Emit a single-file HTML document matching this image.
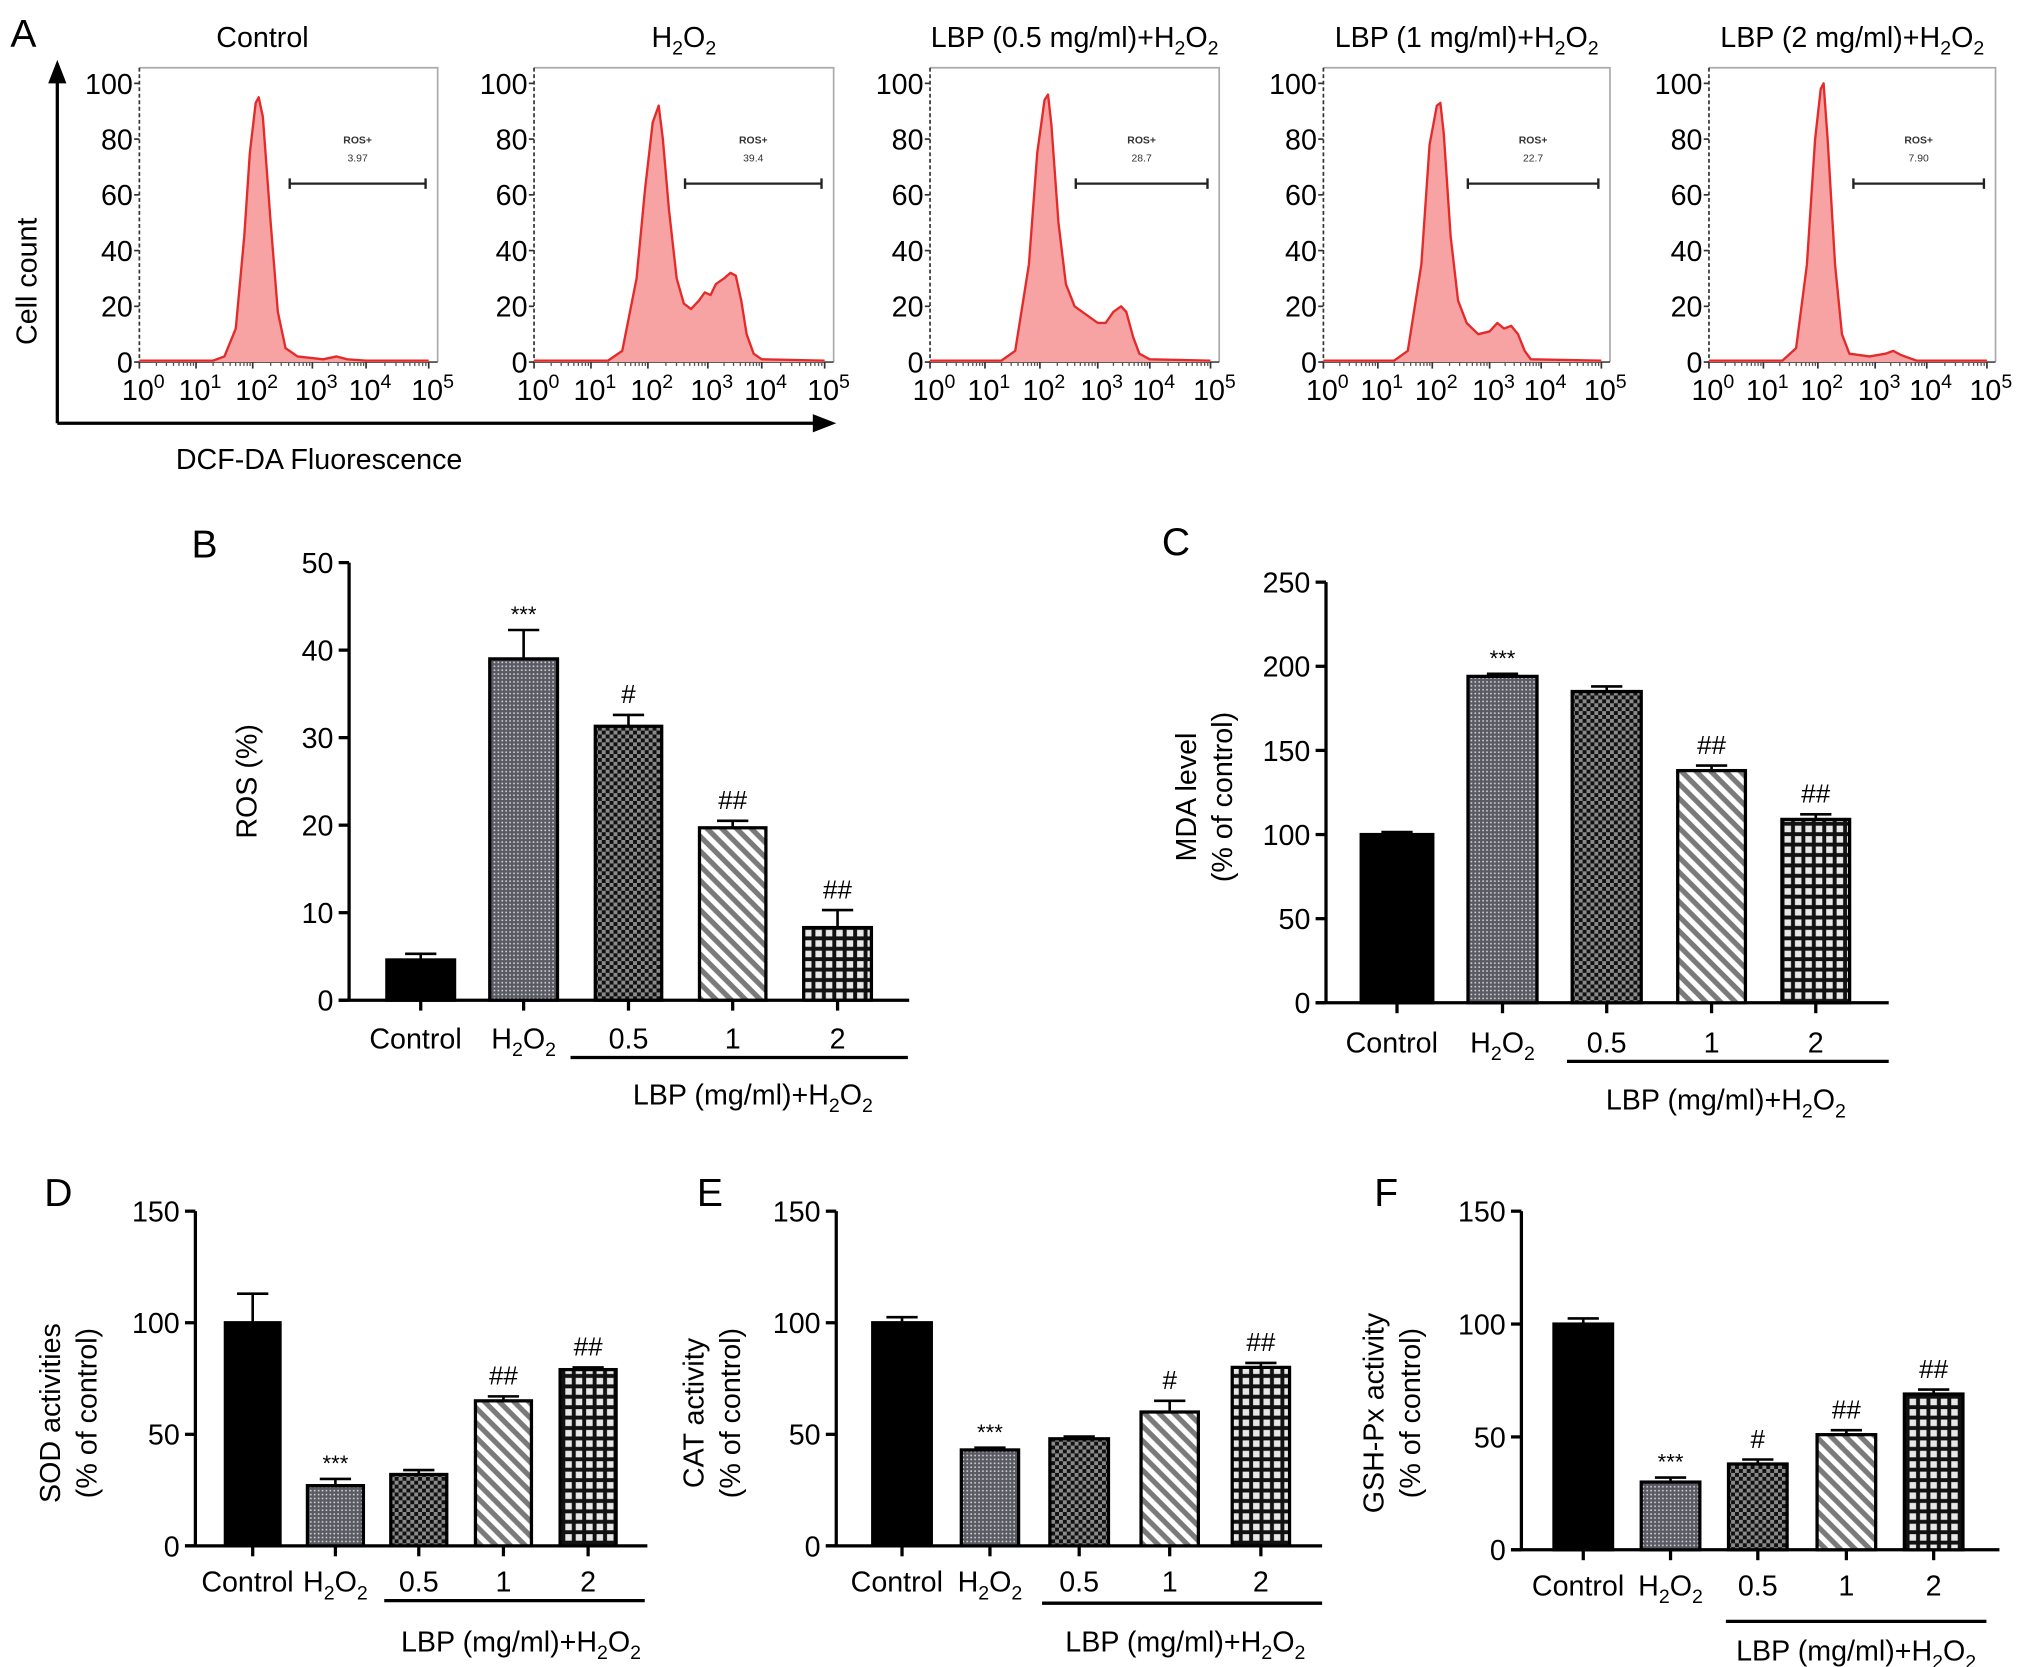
<!DOCTYPE html>
<html><head><meta charset="utf-8"><style>
html,body{margin:0;padding:0;background:#fff}
svg{display:block;font-family:"Liberation Sans",Arial,sans-serif}
</style></head><body>
<svg id="fig" width="2032" height="1667" viewBox="0 0 1560 1280" preserveAspectRatio="none" xmlns="http://www.w3.org/2000/svg">
<defs>
<pattern id="pH" width="3" height="3" patternUnits="userSpaceOnUse"><rect width="3" height="3" fill="#5a5a62"/><rect x="1" y="1" width="1.2" height="1.2" fill="#d8d8e0"/></pattern>
<pattern id="pC" width="6" height="6" patternUnits="userSpaceOnUse"><rect width="6" height="6" fill="#111"/><rect width="3" height="3" fill="#8a8a8a"/><rect x="3" y="3" width="3" height="3" fill="#8a8a8a"/></pattern>
<pattern id="pS" width="8" height="8" patternUnits="userSpaceOnUse" patternTransform="rotate(45)"><rect width="8" height="8" fill="#fff"/><rect width="8" height="4" fill="#7a7a7a"/></pattern>
<pattern id="pG" width="8" height="8" patternUnits="userSpaceOnUse"><rect width="8" height="8" fill="#111"/><rect x="2" y="2" width="5" height="5" fill="#e8e8e8"/></pattern>
</defs>
<g id="root"></g>
</svg>
<script>
// ---------- Panel A data (flow histograms: [log10 decade, % count]) ----------
const flowTitles = ['Control','H<tspan dy="6" font-size="15">2</tspan><tspan dy="-6">O</tspan><tspan dy="6" font-size="15">2</tspan>',
 'LBP (0.5 mg/ml)+H<tspan dy="6" font-size="15">2</tspan><tspan dy="-6">O</tspan><tspan dy="6" font-size="15">2</tspan>',
 'LBP (1 mg/ml)+H<tspan dy="6" font-size="15">2</tspan><tspan dy="-6">O</tspan><tspan dy="6" font-size="15">2</tspan>',
 'LBP (2 mg/ml)+H<tspan dy="6" font-size="15">2</tspan><tspan dy="-6">O</tspan><tspan dy="6" font-size="15">2</tspan>'];
const flowGateValues = ['3.97','39.4','28.7','22.7','7.90'];
const histControl = [[0,0.5],[1.3,0.5],[1.5,2],[1.7,12],[1.85,45],[1.95,75],[2.05,93],[2.1,95],[2.17,88],[2.3,50],[2.42,18],[2.55,5],[2.75,2],[3.2,1],[3.45,2],[3.65,1],[4,0.5],[5,0.5]];
const histH2O2 = [[0,0.5],[1.3,0.5],[1.55,4],[1.8,30],[1.95,62],[2.08,86],[2.18,92],[2.25,80],[2.35,55],[2.48,30],[2.6,21],[2.72,19],[2.85,22],[2.95,25],[3.05,24],[3.15,28],[3.3,30],[3.42,32],[3.52,31],[3.62,22],[3.72,10],[3.85,3],[4.0,1],[5,0.5]];
const hist05 = [[0,0.5],[1.3,0.5],[1.55,4],[1.8,35],[1.95,75],[2.08,94],[2.14,96],[2.2,85],[2.32,50],[2.45,28],[2.6,20],[2.8,17],[3.0,14],[3.15,14],[3.3,18],[3.45,20],[3.55,18],[3.68,9],[3.8,3],[4.0,1],[5,0.5]];
const hist1 = [[0,0.5],[1.3,0.5],[1.55,4],[1.8,35],[1.95,78],[2.08,92],[2.14,93],[2.2,82],[2.32,45],[2.45,22],[2.6,14],[2.8,10],[3.0,11],[3.15,14],[3.28,12],[3.42,13],[3.55,10],[3.68,4],[3.8,1],[5,0.5]];
const hist2 = [[0,0.5],[1.35,0.5],[1.6,5],[1.8,35],[1.95,80],[2.05,98],[2.1,100],[2.17,80],[2.3,35],[2.42,10],[2.55,3],[2.9,2],[3.2,3],[3.35,4],[3.5,2.5],[3.8,0.5],[5,0.5]];
const flowSeries = [histControl, histH2O2, hist05, hist1, hist2];
const flowYTicks = [0,20,40,60,80,100];
const flowXTicks = [0,1,2,3,4,5];

// ---------- Bar chart data ----------
const barCats = ['Control','H2O2','0.5','1','2'];
const rosVals = [4.6, 39.0, 31.3, 19.7, 8.3];
const rosErr  = [5.3, 42.3, 32.6, 20.5, 10.3];
const rosSig  = ['', '***', '#', '##', '##'];
const rosTicks = [0,10,20,30,40,50];
const mdaVals = [100, 194, 185, 138, 109];
const mdaErr  = [101.5, 195.5, 188, 141, 112];
const mdaSig  = ['', '***', '', '##', '##'];
const mdaTicks = [0,50,100,150,200,250];
const sodVals = [100, 27, 32, 65, 79];
const sodErr  = [113, 30, 34, 67, 80];
const sodSig  = ['', '***', '', '##', '##'];
const catVals = [100, 43, 48, 60, 80];
const catErr  = [102.5, 44, 49, 65, 82];
const catSig  = ['', '***', '', '#', '##'];
const gshVals = [100, 30, 38, 51, 69];
const gshErr  = [102.5, 32, 40, 53, 71];
const gshSig  = ['', '***', '#', '##', '##'];
const enzTicks = [0,50,100,150];

const NS='http://www.w3.org/2000/svg';
const root=document.getElementById('root');
function mk(tag,attrs,parent){const e=document.createElementNS(NS,tag);for(const k in attrs)e.setAttribute(k,attrs[k]);(parent||root).appendChild(e);return e;}
const H2='H<tspan dy="6" font-size="15">2</tspan><tspan dy="-6">O</tspan><tspan dy="6" font-size="15">2</tspan>';

// ---------- Panel A ----------
const boxL=[107,410,714,1016,1312], boxR=[336,640,936,1236,1532];
const fracs=[0,0.19,0.38,0.58,0.76,0.97];
const fTop=52, fY0=278, fY100=64;
function fx(i,d){const w=boxR[i]-boxL[i];const k=Math.max(0,Math.min(4,Math.floor(d)));const t=d-k;return boxL[i]+w*(fracs[k]+(fracs[k+1]-fracs[k])*t);}
function fy(v){return fY0-(fY0-fY100)*v/100;}
let t=mk('text',{x:8,y:36,'font-size':30});t.textContent='A';


for(let i=0;i<5;i++){
  const g=mk('g',{});
  
  
  const tt=mk('text',{x:(boxL[i]+boxR[i])/2+(i==0?-20:0),y:36,'font-size':22,'text-anchor':'middle'},g);tt.innerHTML=flowTitles[i];
  
  
  mk('polyline',{points:`${boxL[i]},${fTop} ${boxR[i]},${fTop} ${boxR[i]},${fY0}`,fill:'none',stroke:'#aaa','stroke-width':1.3},g);
  mk('line',{x1:boxL[i],y1:fTop,x2:boxL[i],y2:fY0,stroke:'#333','stroke-width':1.3,'stroke-dasharray':'3,2'},g);
  mk('line',{x1:boxL[i],y1:fY0,x2:boxR[i],y2:fY0,stroke:'#444','stroke-width':1.3},g);
  flowYTicks.forEach(v=>{mk('line',{x1:boxL[i]-4,y1:fy(v),x2:boxL[i],y2:fy(v),stroke:'#333','stroke-width':1.3},g);
    const l=mk('text',{x:boxL[i]-5,y:fy(v)+8,'font-size':22,'text-anchor':'end'},g);l.textContent=v;
    
    });
  flowXTicks.forEach(d=>{const x=fx(i,d);mk('line',{x1:x,y1:fY0,x2:x,y2:fY0+5,stroke:'#333','stroke-width':1.3},g);
    if(d<5)for(let m=2;m<10;m++){const xm=fx(i,d+Math.log10(m));mk('line',{x1:xm,y1:fY0,x2:xm,y2:fY0+3,stroke:'#555','stroke-width':1},g);}
    const l=mk('text',{x:x+3,y:fY0+29,'font-size':22,'text-anchor':'middle'},g);l.innerHTML='10<tspan dy="-9" font-size="15">'+d+'</tspan>';
    
    });
  const pts=flowSeries[i].map(p=>fx(i,p[0]).toFixed(1)+','+fy(p[1]).toFixed(1));
  const area=mk('polygon',{points:`${fx(i,0)},${fY0} `+pts.join(' ')+` ${fx(i,5)},${fY0}`,fill:'#f7a3a3',stroke:'none'},g);
  
  
  const ln=mk('polyline',{points:pts.join(' '),fill:'none',stroke:'#e52a2a','stroke-width':1.8,'stroke-linejoin':'round'},g);
  
  
  const gx1=fx(i,2.62),gx2=fx(i,4.95),gy=141;
  const gate=mk('path',{d:`M${gx1},${gy}H${gx2}M${gx1},${gy-4}V${gy+4}M${gx2},${gy-4}V${gy+4}`,stroke:'#222','stroke-width':1.8,fill:'none'},g);
  
  
  let a=mk('text',{x:(gx1+gx2)/2,y:110,'font-size':8,'font-weight':'bold','text-anchor':'middle',fill:'#333'},g);a.textContent='ROS+';
  
  
  a=mk('text',{x:(gx1+gx2)/2,y:124,'font-size':8,'text-anchor':'middle',fill:'#333'},g);a.textContent=flowGateValues[i];
  
  
}
let ax=mk('path',{d:'M44,325V58M44,325H628',stroke:'#000','stroke-width':2.5,fill:'none'});


mk('polygon',{points:'44,46 37,64 51,64',fill:'#000'});
mk('polygon',{points:'642,325 624,318 624,332',fill:'#000'});
t=mk('text',{x:0,y:0,'font-size':22,'text-anchor':'middle',transform:'translate(28,216) rotate(-90)'});t.textContent='Cell count';


t=mk('text',{x:135,y:360,'font-size':22});t.textContent='DCF-DA Fluorescence';



// ---------- Bar charts ----------
const fills=['#000','url(#pH)','url(#pC)','url(#pS)','url(#pG)'];
function barChart(name,c,vals,errs,sigs,ticks){
  const g=mk('g',{});
  
  
  const maxV=ticks[ticks.length-1];
  const Y=v=>c.y0-(c.y0-c.yTop)*v/maxV;
  let l=mk('text',{x:c.letter[0],y:c.letter[1],'font-size':30},g);l.textContent=c.L;
  
  
  mk('line',{x1:c.ax,y1:c.yTop,x2:c.ax,y2:c.y0,stroke:'#000','stroke-width':2.5},g);
  mk('line',{x1:c.ax-8,y1:c.y0,x2:c.xEnd,y2:c.y0,stroke:'#000','stroke-width':2.5},g);
  ticks.forEach(v=>{mk('line',{x1:c.ax-8,y1:Y(v),x2:c.ax,y2:Y(v),stroke:'#000','stroke-width':2.5},g);
    const tl=mk('text',{x:c.ax-12,y:Y(v)+8,'font-size':22,'text-anchor':'end'},g);tl.textContent=v;
    
    });
  c.title.forEach((s,k)=>{const tl=mk('text',{x:0,y:0,'font-size':22,'text-anchor':'middle',transform:`translate(${c.tx[k]},${c.ty}) rotate(-90)`},g);tl.textContent=s;
    
    });
  vals.forEach((v,i)=>{
    const [x1,x2]=c.bars[i];const cx=(x1+x2)/2;
    const r=mk('rect',{x:x1,y:Y(v),width:x2-x1,height:c.y0-Y(v),fill:fills[i],stroke:'#000','stroke-width':2.5},g);
    
    
    const e=mk('path',{d:`M${cx},${Y(v)}V${Y(errs[i])}M${cx-12},${Y(errs[i])}H${cx+12}`,stroke:'#000','stroke-width':2,fill:'none'},g);
    
    
    mk('line',{x1:cx,y1:c.y0,x2:cx,y2:c.y0+8,stroke:'#000','stroke-width':2.5},g);
    if(sigs[i]){const s=mk('text',{x:cx,y:Y(errs[i])-(sigs[i]=='***'?6:9),'font-size':sigs[i]=='***'?17:20,'text-anchor':'middle'},g);s.textContent=sigs[i];
      
      }
    const cl=mk('text',{x:cx+(i==0?-4:0),y:c.labY,'font-size':22,'text-anchor':'middle'},g);
    if(i==1)cl.innerHTML=H2;else cl.textContent=barCats[i];
    
    
  });
  mk('line',{x1:c.br[0],y1:c.br[2],x2:c.br[1],y2:c.br[2],stroke:'#000','stroke-width':2.5},g);
  const ll=mk('text',{x:c.lbp[0],y:c.lbp[1],'font-size':22,'text-anchor':'middle'},g);ll.innerHTML='LBP (mg/ml)+'+H2;
  
  
}
barChart('ros-bar-chart',{L:'B',letter:[147,428],ax:268,yTop:432,y0:768,xEnd:698,bars:[[297,349],[376,428],[457,508],[537,588],[617,669]],labY:805,br:[438,697,812],lbp:[578,848],title:['ROS (%)'],tx:[197],ty:600},rosVals,rosErr,rosSig,rosTicks);
barChart('mda-bar-chart',{L:'C',letter:[892,426],ax:1018,yTop:447,y0:770,xEnd:1450,bars:[[1045,1100],[1127,1180],[1207,1260],[1288,1340],[1368,1420]],labY:808,br:[1203,1450,815],lbp:[1325,852],title:['MDA level','(% of control)'],tx:[918,946],ty:612},mdaVals,mdaErr,mdaSig,mdaTicks);
barChart('sod-bar-chart',{L:'D',letter:[34,926],ax:150,yTop:930,y0:1187,xEnd:497,bars:[[173,215],[236,279],[300,343],[365,408],[430,473]],labY:1222,br:[295,495,1229],lbp:[400,1268],title:['SOD activities','(% of control)'],tx:[46,74],ty:1085},sodVals,sodErr,sodSig,enzTicks);
barChart('cat-bar-chart',{L:'E',letter:[535,926],ax:642,yTop:930,y0:1187,xEnd:1015,bars:[[670,715],[738,782],[806,851],[876,920],[946,990]],labY:1222,br:[800,1015,1231],lbp:[910,1268],title:['CAT activity','(% of control)'],tx:[540,568],ty:1085},catVals,catErr,catSig,enzTicks);
barChart('gsh-bar-chart',{L:'F',letter:[1055,926],ax:1168,yTop:930,y0:1190,xEnd:1535,bars:[[1193,1238],[1260,1305],[1327,1372],[1395,1440],[1462,1507]],labY:1225,br:[1325,1525,1245],lbp:[1425,1275],title:['GSH-Px activity','(% of control)'],tx:[1062,1090],ty:1085},gshVals,gshErr,gshSig,enzTicks);
</script>
</body></html>
